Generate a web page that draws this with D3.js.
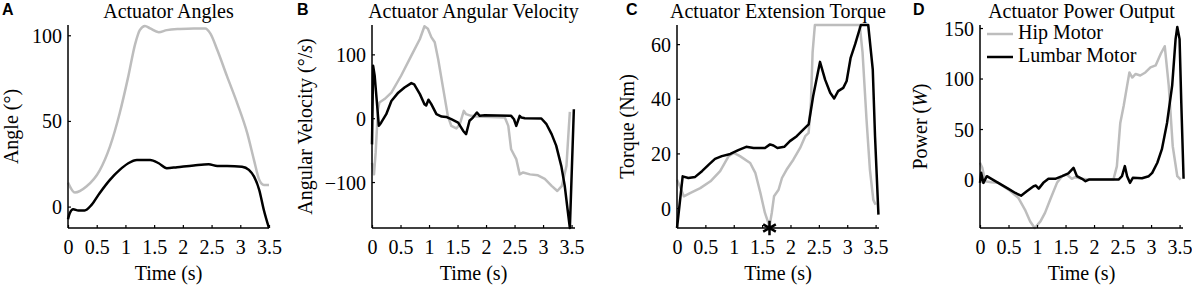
<!DOCTYPE html>
<html>
<head>
<meta charset="utf-8">
<script src="https://cdn.jsdelivr.net/npm/d3@7"></script>
<style>
  body { margin: 0; background: #fff; }
  text { font-family: "Liberation Serif", "Times New Roman", serif; fill: #000; }
  .letter { font-family: "Liberation Sans", Arial, sans-serif; font-weight: bold; }
</style>
</head>
<body>
<div id="chart"></div>
<script>
// time ticks shared by all panels
const timeTicks = [0, 0.5, 1, 1.5, 2, 2.5, 3, 3.5];

// A: actuator angles (deg)
const angleTicks = [0, 50, 100];
const hipAngle = [[0,14],[0.12,8.2],[0.32,11.7],[0.55,21],[0.73,35],[0.9,54.5],[1.05,76],[1.17,95],[1.25,103],[1.34,105.4],[1.43,104],[1.58,101.8],[1.72,103],[1.95,103.7],[2.19,104],[2.39,104],[2.48,101],[2.6,91.4],[2.77,76],[2.95,60],[3.12,43],[3.24,27],[3.33,15.6],[3.41,12.6],[3.5,12.6]];
const lumbarAngle = [[0,-7.4],[0.03,-3.9],[0.09,-1.6],[0.18,-2.3],[0.29,-2.3],[0.41,1],[0.55,7.8],[0.73,15.6],[0.9,21.4],[1.05,25.3],[1.2,27.2],[1.43,27.2],[1.58,25.3],[1.72,22.4],[1.9,23],[2.19,24],[2.45,24.7],[2.6,23.7],[2.77,23.7],[3.03,23.3],[3.15,21.4],[3.24,17.5],[3.33,9.7],[3.41,-2],[3.5,-12.6]];

// B: angular velocity (deg/s)
const velocityTicks = [-100, 0, 100];
const hipVelocity = [[0,-70],[0.035,-88],[0.064,-54],[0.105,14],[0.13,24.6],[0.22,30],[0.34,40],[0.51,66.5],[0.69,98],[0.84,124],[0.92,144],[0.98,140],[1.04,127],[1.1,119],[1.16,92.7],[1.25,45.5],[1.33,3.7],[1.39,-12],[1.48,-16],[1.54,-9.4],[1.61,11.5],[1.65,6.3],[1.74,3.7],[1.83,2.6],[2.33,1],[2.39,-12],[2.44,-48.7],[2.53,-64],[2.59,-88],[2.65,-85],[2.77,-88],[2.91,-89.5],[3.03,-95],[3.15,-106],[3.25,-114],[3.33,-106],[3.41,-75],[3.45,-17],[3.47,10]];
const lumbarVelocity = [[0,-41],[0.02,82],[0.047,66.5],[0.12,-12],[0.16,-7],[0.25,6.3],[0.34,27],[0.46,40],[0.57,48],[0.69,55],[0.74,53],[0.84,37.7],[0.92,22],[0.95,20],[0.99,29],[1.04,22],[1.13,6.3],[1.22,2.6],[1.3,2],[1.39,-1.6],[1.51,-6.8],[1.6,-20],[1.65,-25],[1.71,-4],[1.77,1],[1.84,9],[1.89,3.7],[1.98,4.7],[2.44,3.7],[2.49,-1.6],[2.53,-12],[2.59,3.7],[2.62,1],[2.68,0],[2.97,-0.5],[3.06,-9.4],[3.15,-25],[3.23,-43],[3.32,-75],[3.38,-106],[3.43,-143],[3.47,-172],[3.54,14]];

// C: extension torque (Nm)
const torqueTicks = [0, 20, 40, 60];
const hipTorque = [[0,10.4],[0.05,8],[0.12,4.3],[0.23,5.5],[0.41,7.3],[0.59,9.8],[0.76,13.5],[0.91,19],[1.0,20.2],[1.11,19],[1.29,16.5],[1.38,12.9],[1.47,5.5],[1.55,-1.8],[1.63,-6.7],[1.67,-1.8],[1.71,4.3],[1.79,6.7],[1.85,11],[1.93,14],[2.05,17.7],[2.17,22],[2.26,26.3],[2.32,27.5],[2.36,38.6],[2.39,57],[2.43,67],[3.22,67],[3.27,57],[3.34,32.4],[3.4,14],[3.46,3],[3.5,1.2]];
const lumbarTorque = [[0,-7.3],[0.1,11.6],[0.2,11],[0.32,11.4],[0.44,13.5],[0.56,15.9],[0.67,18],[0.79,19],[0.94,19.8],[1.08,21.2],[1.22,22.4],[1.35,22],[1.55,22],[1.64,23.3],[1.7,22.9],[1.77,22],[1.89,22.4],[1.99,24.5],[2.11,26.3],[2.23,28.8],[2.32,30.6],[2.4,41],[2.52,53.5],[2.61,47],[2.7,42.2],[2.77,40.1],[2.84,42.8],[2.93,44],[2.99,46.5],[3.06,55],[3.14,60],[3.24,67],[3.37,67],[3.45,50.8],[3.49,26.3],[3.55,-2.4]];
const torqueMark = [[1.63, -7.3]];

// D: power output (W)
const powerTicks = [0, 50, 100, 150];
const hipPower = [[0,16.6],[0.04,11.6],[0.09,-1.7],[0.2,-2.7],[0.32,-3.3],[0.5,-10],[0.67,-18],[0.79,-30],[0.88,-41.5],[0.96,-48],[1.06,-41.5],[1.14,-33],[1.23,-20],[1.35,-3.3],[1.44,3.3],[1.52,5],[1.61,0.7],[1.67,2.3],[1.79,0.7],[1.91,0],[2.34,0],[2.4,13],[2.46,56],[2.52,73],[2.58,93],[2.62,106],[2.67,101],[2.73,104.5],[2.81,103],[2.9,106],[2.99,111],[3.08,113],[3.17,124.5],[3.24,132],[3.31,93],[3.38,33],[3.46,3.3],[3.52,0]];
const lumbarPower = [[0,-3.3],[0.02,6.6],[0.06,-3.3],[0.12,3.3],[0.2,0.7],[0.32,-3.3],[0.5,-9.3],[0.62,-13.3],[0.72,-16],[0.82,-11.6],[0.94,-6.6],[0.98,-6],[1.03,-9],[1.11,-3.3],[1.2,0.7],[1.32,0.7],[1.44,3.3],[1.55,6],[1.64,11.6],[1.7,3.3],[1.79,0.7],[1.85,-1.7],[1.91,0],[2.43,0],[2.49,3.3],[2.54,13.3],[2.58,3.3],[2.63,-3.3],[2.68,1.7],[2.84,1.3],[2.96,3.3],[3.02,6.6],[3.11,16.6],[3.19,30],[3.28,56],[3.37,93],[3.43,139],[3.46,151],[3.5,139],[3.53,76],[3.57,0.7]];

const seriesNames = ["Hip Motor", "Lumbar Motor"];
const hipColor = "#bdbdbd", lumbarColor = "#000";

const width = 1192, height = 286;
const plotTop = 25, plotBottom = 228;

const svg = d3
  .select("#chart")
  .append("svg")
  .attr("width", width)
  .attr("height", height);

function drawPanel(p) {
  const x = d3.scaleLinear().domain(p.xDomain).range([p.left, p.right]);
  const y = d3.scaleLinear().domain(p.yDomain).range([plotBottom, plotTop]);
  const g = svg.append("g");

  g.append("clipPath")
    .attr("id", "clip" + p.letter)
    .append("rect")
    .attr("x", p.left - 2)
    .attr("y", plotTop - 2)
    .attr("width", p.right - p.left + 4)
    .attr("height", plotBottom - plotTop + 4);

  const line = d3
    .line()
    .x((d) => x(d[0]))
    .y((d) => y(d[1]))
    .curve(p.smooth ? d3.curveMonotoneX : d3.curveLinear);

  const lines = g.append("g").attr("clip-path", `url(#clip${p.letter})`);
  lines.append("path")
    .datum(p.hip)
    .attr("fill", "none")
    .attr("stroke", hipColor)
    .attr("stroke-width", 2.5)
    .attr("stroke-linejoin", "round")
    .attr("d", line);
  lines.append("path")
    .datum(p.lumbar)
    .attr("fill", "none")
    .attr("stroke", lumbarColor)
    .attr("stroke-width", 2.5)
    .attr("stroke-linejoin", "round")
    .attr("d", line);

  // axes, ticks point inward like matlab
  const xAxis = g.append("g")
    .attr("transform", `translate(0,${plotBottom})`)
    .call(d3.axisBottom(x).tickValues(timeTicks).tickSize(-3).tickPadding(12).tickFormat(d3.format("")));
  const yAxis = g.append("g")
    .attr("transform", `translate(${p.left},0)`)
    .call(d3.axisLeft(y).tickValues(p.yTicks).tickSize(-3).tickPadding(6).tickFormat(d3.format("")));
  [xAxis, yAxis].forEach((a) => {
    a.attr("font-family", "Liberation Serif, serif");
    a.select(".domain").attr("stroke-width", 1.5);
    a.selectAll("line").attr("stroke-width", 1.2);
    a.selectAll("text").style("font-size", "20px");
  });
  xAxis.select(".domain").attr("d", `M${p.left},0H${p.right}`);
  yAxis.select(".domain").attr("d", `M0,${plotTop}V${plotBottom}`);
  yAxis.selectAll("text").attr("dy", "0.35em");

  // title and labels
  g.append("text")
    .attr("x", (p.left + p.right) / 2)
    .attr("y", 18)
    .attr("text-anchor", "middle")
    .style("font-size", "20px")
    .text(p.title);
  g.append("text")
    .attr("class", "letter")
    .attr("x", p.letterX)
    .attr("y", 15)
    .style("font-size", "16px")
    .text(p.letter);
  g.append("text")
    .attr("x", (p.left + p.right) / 2)
    .attr("y", 280)
    .attr("text-anchor", "middle")
    .style("font-size", "20px")
    .text("Time (s)");
  const yl = g.append("text")
    .attr("transform", `translate(${p.labelX},${(plotTop + plotBottom) / 2}) rotate(-90)`)
    .attr("text-anchor", "middle")
    .style("font-size", "20px");
  p.yLabel.forEach((s) => {
    yl.append("tspan").style("font-style", s[1] ? "italic" : null).text(s[0]);
  });

  return { g, x, y };
}

drawPanel({
  letter: "A", letterX: 2, title: "Actuator Angles",
  left: 68, right: 269, xDomain: [0, 3.5], yDomain: [-12.5, 106],
  yTicks: angleTicks, hip: hipAngle, lumbar: lumbarAngle, smooth: true,
  labelX: 18, yLabel: [["Angle (°)"]]
});

drawPanel({
  letter: "B", letterX: 297, title: "Actuator Angular Velocity",
  left: 372, right: 575, xDomain: [0, 3.56], yDomain: [-172, 146],
  yTicks: velocityTicks, hip: hipVelocity, lumbar: lumbarVelocity,
  labelX: 312, yLabel: [["Angular Velocity (°/"], ["s", true], [")"]]
});

const pc = drawPanel({
  letter: "C", letterX: 626, title: "Actuator Extension Torque",
  left: 677, right: 879, xDomain: [0, 3.56], yDomain: [-7.3, 67],
  yTicks: torqueTicks, hip: hipTorque, lumbar: lumbarTorque,
  labelX: 634, yLabel: [["Torque (Nm)"]]
});

// asterisk where hip torque crosses the bottom
pc.g.selectAll("star")
  .data(torqueMark)
  .join("path")
  .attr("transform", (d) => `translate(${pc.x(d[0])},${pc.y(d[1])})`)
  .attr("d", d3.symbol(d3.symbolAsterisk, 150))
  .attr("stroke", "#000")
  .attr("stroke-width", 2.5);

drawPanel({
  letter: "D", letterX: 913, title: "Actuator Power Output",
  left: 980, right: 1183, xDomain: [0, 3.56], yDomain: [-48, 153],
  yTicks: powerTicks, hip: hipPower, lumbar: lumbarPower,
  labelX: 927, yLabel: [["Power ("], ["W", true], [")"]]
});

// Handmade legend
const legend = svg.append("g");
[hipColor, lumbarColor].forEach((c, i) => {
  legend.append("line")
    .attr("x1", 987).attr("x2", 1013)
    .attr("y1", 34 + i * 23).attr("y2", 34 + i * 23)
    .attr("stroke", c)
    .attr("stroke-width", 2.5);
  legend.append("text")
    .attr("x", 1018)
    .attr("y", 39 + i * 23)
    .style("font-size", "20px")
    .text(seriesNames[i]);
});
</script>
</body>
</html>
